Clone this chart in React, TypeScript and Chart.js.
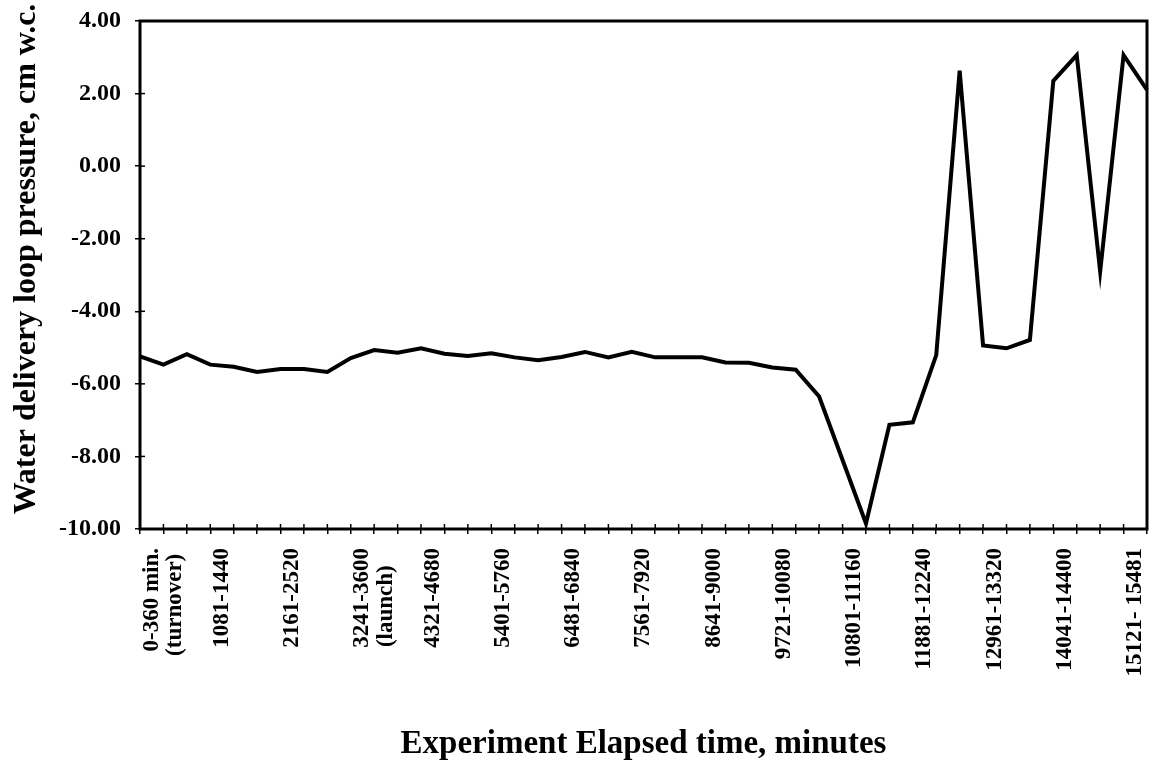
import React, { useEffect, useRef } from "react";
import { Chart, registerables } from "chart.js";

Chart.register(...registerables);

// Interval labels shown under the x axis (one per 360-minute category)
const intervalLabels: string[] = [
  "0-360 min.", "(turnover) ", "", "1081-1440", "", "", "2161-2520", "", "",
  "3241-3600", "(launch)   ", "", "4321-4680", "", "", "5401-5760", "", "",
  "6481-6840", "", "", "7561-7920", "", "", "8641-9000", "", "",
  "9721-10080", "", "", "10801-11160", "", "", "11881-12240", "", "",
  "12961-13320", "", "", "14041-14400", "", "", "15121- 15481",
];

// Boundary minutes at which the pressure samples are plotted
const sampleMinutes: string[] = [
  "0", "360", "720", "1080", "1440", "1800", "2160", "2520", "2880", "3240",
  "3600", "3960", "4320", "4680", "5040", "5400", "5760", "6120", "6480", "6840",
  "7200", "7560", "7920", "8280", "8640", "9000", "9360", "9720", "10080", "10440",
  "10800", "11160", "11520", "11880", "12240", "12600", "12960", "13320", "13680", "14040",
  "14400", "14760", "15120", "15481",
];

// Water delivery loop pressure, cm w.c.
const pressure: number[] = [
  -5.24, -5.47, -5.18, -5.47, -5.53, -5.67, -5.59, -5.59, -5.67, -5.29,
  -5.07, -5.14, -5.02, -5.17, -5.23, -5.16, -5.27, -5.35, -5.26, -5.12,
  -5.27, -5.12, -5.27, -5.27, -5.27, -5.41, -5.42, -5.55, -5.61, -6.35,
  -8.1, -9.85, -7.13, -7.06, -5.21, 2.63, -4.94, -5.02, -4.79, 2.35,
  3.06, -2.9, 3.06, 2.1,
];

const yTitle = "    Water delivery loop pressure, cm w.c.";
const xTitle = "Experiment Elapsed time, minutes";

const FONT = "'Times New Roman', 'Liberation Serif', serif";

const framePlugin = {
  id: "frame",
  afterDatasetsDraw(chart: any) {
    const { ctx, chartArea } = chart;
    const { left, top, right, bottom } = chartArea;
    ctx.save();
    ctx.strokeStyle = "#000";
    ctx.lineWidth = 3;
    ctx.strokeRect(left, top, right - left, bottom - top);
    ctx.lineWidth = 1.5;
    const xs = chart.scales.x;
    for (let i = 0; i < xs.ticks.length; i++) {
      const px = xs.getPixelForTick(i);
      ctx.beginPath();
      ctx.moveTo(px, bottom - 5);
      ctx.lineTo(px, bottom);
      ctx.stroke();
    }
    const ys = chart.scales.y;
    for (let i = 0; i < ys.ticks.length; i++) {
      const py = ys.getPixelForTick(i);
      ctx.beginPath();
      ctx.moveTo(left, py);
      ctx.lineTo(left + 5, py);
      ctx.stroke();
    }
    ctx.restore();
  },
};

const noPad = (s: any) => {
  s.paddingLeft = 0;
  s.paddingRight = 0;
  s.paddingTop = 0;
  s.paddingBottom = 0;
};

export default function App() {
  const ref = useRef<HTMLCanvasElement | null>(null);

  useEffect(() => {
    if (!ref.current) return;
    const chart = new Chart(ref.current, {
      type: "line",
      data: {
        labels: sampleMinutes,
        datasets: [
          {
            data: pressure,
            borderColor: "#000",
            backgroundColor: "#000",
            borderWidth: 4,
            pointRadius: 0,
            tension: 0,
            fill: false,
            xAxisID: "x",
            yAxisID: "y",
          },
        ],
      },
      options: {
        animation: false,
        responsive: false,
        layout: { padding: { top: 21, right: 5, left: 0, bottom: 0 } },
        plugins: {
          legend: { display: false },
          tooltip: { enabled: false },
        },
        scales: {
          x: {
            type: "category",
            position: "bottom",
            weight: 0,
            offset: false,
            grid: {
              drawOnChartArea: false,
              drawTicks: true,
              tickLength: 5,
              color: "#000",
              lineWidth: 1.5,
            },
            border: { display: false },
            ticks: { display: false, autoSkip: false },
            afterFit: (s: any) => {
              noPad(s);
              s.height = 5;
            },
          },
          xLabels: {
            type: "category",
            axis: "x",
            position: "bottom",
            weight: 1,
            labels: intervalLabels,
            offset: true,
            grid: { display: false, drawTicks: false },
            border: { display: false },
            ticks: {
              autoSkip: false,
              maxRotation: 90,
              minRotation: 90,
              padding: 14,
              color: "#000",
              font: { family: FONT, size: 23, weight: "bold" },
            },
            title: {
              display: true,
              text: xTitle,
              color: "#000",
              font: { family: FONT, size: 33, weight: "bold" },
              padding: { top: 0, bottom: 0 },
            },
            afterFit: (s: any) => {
              noPad(s);
              s.height = 230;
            },
          },
          y: {
            type: "linear",
            position: "left",
            min: -10,
            max: 4,
            grid: {
              drawOnChartArea: false,
              drawTicks: true,
              tickLength: 5,
              color: "#000",
              lineWidth: 1.5,
            },
            border: { display: false },
            ticks: {
              stepSize: 2,
              padding: 14,
              color: "#000",
              font: { family: FONT, size: 24, weight: "bold" },
              callback: (v: any) => Number(v).toFixed(2),
            },
            title: {
              display: true,
              text: yTitle,
              color: "#000",
              font: { family: FONT, size: 32, weight: "bold" },
              padding: { top: 8, bottom: 0 },
            },
            afterFit: (s: any) => {
              noPad(s);
              s.width = 140;
            },
          },
        },
      },
      plugins: [framePlugin],
    });
    return () => chart.destroy();
  }, []);

  return (
    <div style={{ position: "fixed", left: 0, top: 0, width: 1152, height: 764, background: "#fff" }}>
      <canvas ref={ref} width={1152} height={764} style={{ display: "block" }} />
    </div>
  );
}
